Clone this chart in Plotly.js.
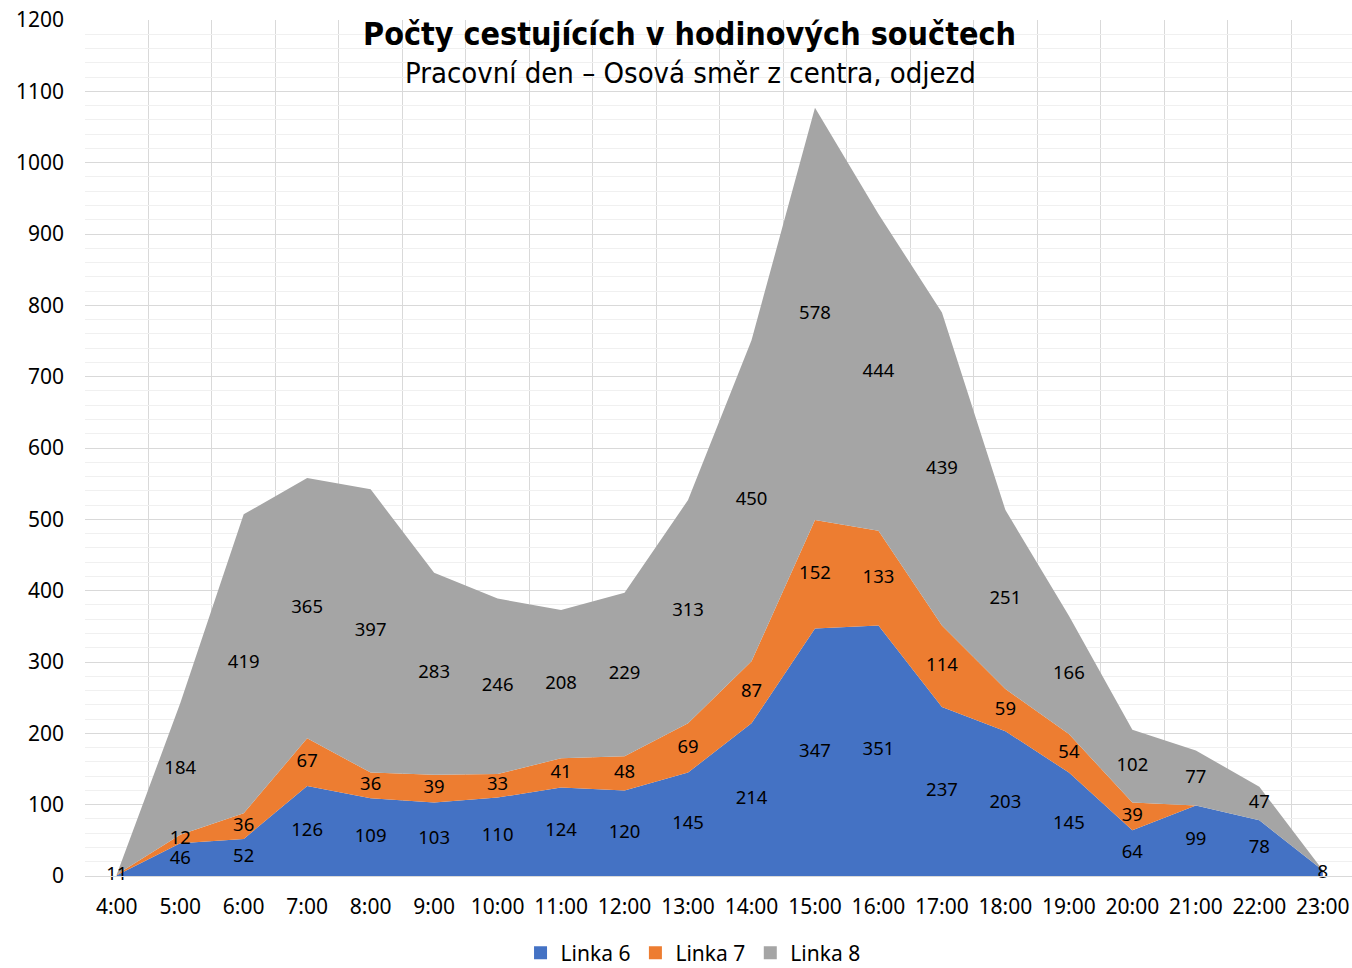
<!DOCTYPE html>
<html>
<head>
<meta charset="utf-8">
<script src="https://cdn.plot.ly/plotly-3.0.1.min.js"></script>
<style>
  body { margin: 0; background: #fff; }
  #chart { width: 1352px; height: 968px; }
</style>
</head>
<body>
<div id="chart"></div>
<script>
// hodiny odjezdu
const hours = ['4:00','5:00','6:00','7:00','8:00','9:00','10:00','11:00','12:00','13:00',
               '14:00','15:00','16:00','17:00','18:00','19:00','20:00','21:00','22:00','23:00'];

// pocty cestujicich
const linka6 = [1,46,52,126,109,103,110,124,120,145,214,347,351,237,203,145,64,99,78,8];
const linka7 = [1,12,36,67,36,39,33,41,48,69,87,152,133,114,59,54,39,0,0,0];
const linka8 = [0,184,419,365,397,283,246,208,229,313,450,578,444,439,251,166,102,77,47,0];

const names = ['Linka 6','Linka 7','Linka 8'];
const colors = ['#4472C4','#ED7D31','#A5A5A5'];

var series = [linka6, linka7, linka8];
var idx = hours.map(function(h, i){ return i; });
var fontMain = 'Noto Sans, DejaVu Sans, sans-serif';
var fontCond = 'Liberation Sans Narrow, DejaVu Sans Condensed, sans-serif';

var data = [];
// plochy
for (var s = 0; s < series.length; s++) {
    data.push({
        x: idx,
        y: series[s],
        name: names[s],
        type: 'scatter',
        mode: 'none',
        stackgroup: 'one',
        fillcolor: colors[s],
        showlegend: false,
        hoverinfo: 'skip'
    });
}

// popisky uprostred pasu
var base = idx.map(function(){ return 0; });
for (var s = 0; s < series.length; s++) {
    var ys = [], txt = [], pos = [];
    for (var i = 0; i < idx.length; i++) {
        var v = series[s][i];
        ys.push(base[i] + v / 2);
        txt.push(v > 0 ? String(v) : '');
        pos.push('middle center');
        base[i] += v;
    }
    // 4:00 - dva popisky vedle sebe
    if (s == 0) { pos[0] = 'middle left'; }
    if (s == 1) { pos[0] = 'middle right'; }
    data.push({
        x: idx,
        y: ys,
        type: 'scatter',
        mode: 'text',
        text: txt,
        textposition: pos,
        textfont: { family: fontMain, size: 18.5, color: '#000' },
        showlegend: false,
        hoverinfo: 'skip',
        cliponaxis: false
    });
}

// legenda se ctverecky
for (var s = 0; s < series.length; s++) {
    data.push({
        x: [null],
        y: [null],
        name: names[s],
        type: 'scatter',
        mode: 'markers',
        marker: { symbol: 'square', size: 13, color: colors[s] },
        hoverinfo: 'skip'
    });
}

var layout = {
    width: 1352,
    height: 968,
    margin: { l: 85, r: 0, t: 20, b: 92 },
    paper_bgcolor: '#fff',
    plot_bgcolor: '#fff',
    font: { family: fontMain, size: 21, color: '#000' },
    title: {
        text: '<b>Počty cestujících v hodinových součtech</b>',
        font: { family: fontCond, size: 32, color: '#000' },
        xref: 'container',
        yref: 'container',
        x: 0.51,
        xanchor: 'center',
        y: 1 - 34 / 968,
        yanchor: 'middle'
    },
    annotations: [{
        text: 'Pracovní den – Osová směr z centra, odjezd',
        xref: 'paper', yref: 'paper',
        x: (690 - 85) / 1267, y: (876 - 73) / 856,
        xanchor: 'center', yanchor: 'middle',
        showarrow: false,
        font: { family: fontCond, size: 29, color: '#000' }
    }],
    xaxis: {
        range: [-0.5, 19.46],
        tickmode: 'array',
        tickvals: idx,
        ticktext: hours,
        showgrid: false,
        zeroline: false,
        showline: true,
        linecolor: '#d9d9d9',
        linewidth: 1,
        ticks: '',
        ticklabelstandoff: 12,
        tickfont: { family: fontMain, size: 21, color: '#000' },
        minor: { tick0: 0.5, dtick: 1, showgrid: true, gridcolor: '#d9d9d9', gridwidth: 1, ticks: '' },
        fixedrange: true
    },
    yaxis: {
        range: [0, 1200],
        dtick: 100,
        showgrid: true,
        gridcolor: '#d9d9d9',
        gridwidth: 1,
        zeroline: false,
        ticks: '',
        ticklabelstandoff: 20,
        tickfont: { family: fontMain, size: 21, color: '#000' },
        minor: { dtick: 20, showgrid: true, gridcolor: '#f0f0f0', gridwidth: 1, ticks: '' },
        fixedrange: true
    },
    showlegend: true,
    legend: {
        orientation: 'h',
        traceorder: 'normal',
        xref: 'container',
        yref: 'container',
        x: 0.5126,
        xanchor: 'center',
        y: 15 / 968,
        yanchor: 'middle',
        font: { family: fontMain, size: 21, color: '#000' },
        itemwidth: 30,
        tracegroupgap: 0
    }
};

Plotly.newPlot('chart', data, layout, { displayModeBar: false, staticPlot: true });
</script>
</body>
</html>
